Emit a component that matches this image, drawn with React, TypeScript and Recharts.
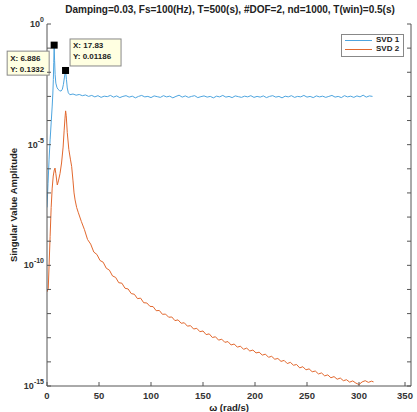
import React from "react";
import { LineChart, Line, XAxis, YAxis, ReferenceDot } from "recharts";

// [omega (rad/s), log10(amplitude)]
const svd1Rise: number[][] = [
  [0, -7.6], [1, -6.6], [2, -5.6], [3, -4.8], [4, -4.1], [5, -3.4], [5.6, -2.9], [6.1, -2.3],
  [6.5, -1.6], [6.886, -0.876], [7.3, -1.5], [7.8, -2.1], [8.5, -2.45], [9.5, -2.62], [10.5, -2.7],
  [12, -2.76], [13.5, -2.78], [14.8, -2.7], [15.8, -2.5], [16.8, -2.2], [17.83, -1.926], [18.7, -2.3],
  [19.5, -2.65], [20.5, -2.85],
];
const svd1Floor: number[][] = [
  [22, -2.93], [25, -2.9], [28, -2.95], [31, -2.92], [34, -2.97], [37, -2.94], [40, -3.0], [43, -2.96],
  [46, -3.02], [49, -2.97], [52, -3.04], [55, -2.99], [58, -3.01], [61, -2.96], [64, -3.03], [67, -2.98],
  [70, -3.05], [73, -3.0], [76, -2.97], [79, -3.03], [82, -2.99], [85, -3.06], [88, -3.0], [91, -2.96],
  [94, -3.02], [97, -3.0], [100, -3.05], [103, -2.98], [106, -3.01], [109, -3.04], [112, -2.97], [115, -3.02],
  [118, -2.99], [121, -3.06], [124, -3.0], [127, -2.95], [130, -3.03], [133, -2.98], [136, -3.04], [139, -3.0],
  [142, -2.97], [145, -3.05], [148, -3.01], [151, -2.98], [154, -3.03], [157, -3.0], [160, -3.06], [163, -2.99],
  [166, -3.02], [169, -2.96], [172, -3.03], [175, -3.0], [178, -3.05], [181, -2.98], [184, -3.01], [187, -3.04],
  [190, -2.99], [193, -3.02], [196, -2.97], [199, -3.04], [202, -3.0], [205, -3.03], [208, -2.98], [211, -3.05],
  [214, -3.0], [217, -2.97], [220, -3.03], [223, -3.0], [226, -3.06], [229, -2.99], [232, -3.02], [235, -2.97],
  [238, -3.04], [241, -3.0], [244, -3.02], [247, -2.96], [250, -3.03], [253, -3.0], [256, -3.05], [259, -2.98],
  [262, -3.02], [265, -2.99], [268, -3.04], [271, -3.0], [274, -2.96], [277, -3.03], [280, -3.0], [283, -3.05],
  [286, -2.97], [289, -3.02], [292, -2.99], [295, -3.04], [298, -2.98], [301, -3.02], [304, -2.95], [307, -3.03],
  [310, -2.98], [313, -3.0],
];
const svd2Rise: number[][] = [
  [0, -11.1], [1.2, -10.97], [2, -10.0], [3, -8.8], [4, -7.6], [5, -6.8], [6, -6.3], [7, -6.05], [7.7, -5.97],
  [8.5, -6.2], [9.9, -6.67], [11, -6.5], [12.5, -6.2], [14, -5.76], [15.5, -5.1], [16.5, -4.4], [17.3, -3.9],
  [17.9, -3.6], [18.5, -3.8], [19.5, -4.5], [21, -5.2], [22.5, -5.6], [23.7, -5.9], [25, -6.5], [26, -7.0],
  [27, -7.29], [28.5, -7.6],
];
const svd2Tail: number[][] = [
  [30, -7.8], [33, -8.18], [36, -8.52], [39, -8.93], [42, -9.12], [45, -9.45], [48, -9.55], [51, -9.8],
  [54, -9.87], [57, -10.12], [60, -10.2], [63, -10.44], [66, -10.5], [69, -10.72], [72, -10.74], [75, -10.95],
  [78, -10.98], [81, -11.17], [84, -11.2], [87, -11.38], [90, -11.36], [93, -11.55], [96, -11.56], [99, -11.7],
  [102, -11.71], [105, -11.88], [108, -11.87], [111, -12.03], [114, -12.02], [117, -12.15], [120, -12.14],
  [123, -12.29], [126, -12.26], [129, -12.4], [132, -12.38], [135, -12.52], [138, -12.5], [141, -12.64],
  [144, -12.61], [147, -12.75], [150, -12.72], [153, -12.87], [156, -12.84], [159, -12.99], [162, -12.96],
  [165, -13.1], [168, -13.06], [171, -13.19], [174, -13.16], [177, -13.3], [180, -13.26], [183, -13.39],
  [186, -13.35], [189, -13.48], [192, -13.43], [195, -13.55], [198, -13.51], [201, -13.63], [204, -13.6],
  [207, -13.72], [210, -13.68], [213, -13.81], [216, -13.77], [219, -13.89], [222, -13.86], [225, -13.98],
  [228, -13.94], [231, -14.07], [234, -14.02], [237, -14.14], [240, -14.11], [243, -14.25], [246, -14.2],
  [249, -14.33], [252, -14.29], [255, -14.41], [258, -14.38], [261, -14.5], [264, -14.46], [267, -14.58],
  [270, -14.54], [273, -14.66], [276, -14.61], [279, -14.72], [282, -14.67], [285, -14.78], [288, -14.74],
  [291, -14.84], [294, -14.79], [297, -14.88], [300, -14.94], [303, -14.83], [306, -14.78], [309, -14.85],
  [312, -14.8], [314, -14.83],
];

const xTicks = [0, 50, 100, 150, 200, 250, 300, 350];
const yExponents = [-15, -14, -13, -12, -11, -10, -9, -8, -7, -6, -5, -4, -3, -2, -1, 0];
const yTicks = yExponents.map((e) => Math.pow(10, e));

const tip1 = { x: 6.886, y: 0.1332, xs: "6.886", ys: "0.1332" };
const tip2 = { x: 17.83, y: 0.01186, xs: "17.83", ys: "0.01186" };

const toPoints = (pairs: number[][]) => pairs.map(([w, l]) => ({ w, amp: Math.pow(10, l) }));
const svd1 = toPoints([...svd1Rise, ...svd1Floor]);
const svd2 = toPoints([...svd2Rise, ...svd2Tail]);

const FONT = "'Liberation Sans', Arial, Helvetica, sans-serif";
const AX = "#555";
const BLUE = "#4ea5df";
const ORANGE = "#e2682e";

const XTickBottom = (p: any) => (
  <g>
    <line x1={p.x} y1={p.y} x2={p.x} y2={p.y - 4} stroke={AX} />
    <text x={p.x} y={p.y + 12.5} textAnchor="middle" fontSize={9.5} fontWeight="bold" fill="#333" fontFamily={FONT}>
      {p.payload.value}
    </text>
  </g>
);
const XTickTop = (p: any) => <line x1={p.x} y1={p.y} x2={p.x} y2={p.y + 4} stroke={AX} />;
const YTickLeft = (p: any) => {
  const e = Math.round(Math.log10(p.payload.value));
  return (
    <g>
      <line x1={p.x} y1={p.y} x2={p.x + 4} y2={p.y} stroke={AX} />
      {e % 5 === 0 && (
        <text x={p.x - 3} y={p.y + 3} textAnchor="end" fontSize={9} fontWeight="bold" fill="#333" fontFamily={FONT}>
          10
          <tspan dy={-5} fontSize={7}>{String(e)}</tspan>
        </text>
      )}
    </g>
  );
};
const YTickRight = (p: any) => <line x1={p.x} y1={p.y} x2={p.x - 4} y2={p.y} stroke={AX} />;

const makeTip = (xs: string, ys: string, dx: number, dy: number, w: number, h: number) => (p: any) => {
  const bx = p.cx + dx;
  const by = p.cy + dy;
  return (
    <g>
      <rect x={p.cx - 3.5} y={p.cy - 3.5} width={7} height={7} fill="#000" />
      <rect x={bx} y={by} width={w} height={h} fill="#ffffe1" stroke="#888" />
      <text x={bx + 3} y={by + 9.5} fontSize={8} fontWeight="bold" fill="#222" fontFamily={FONT}>X: {xs}</text>
      <text x={bx + 3} y={by + 20.5} fontSize={8} fontWeight="bold" fill="#222" fontFamily={FONT}>Y: {ys}</text>
    </g>
  );
};

export default function App() {
  return (
    <div style={{ position: "absolute", left: 0, top: 0, width: 417, height: 412, background: "#fff", fontFamily: FONT }}>
      <LineChart width={417} height={412} margin={{ top: 24, right: 0, bottom: 0, left: 0 }}>
        <XAxis xAxisId="b" dataKey="w" type="number" domain={[0, 350]} ticks={xTicks} orientation="bottom"
          height={26} tickSize={0} tickMargin={0} tickLine={false} stroke={AX} tick={<XTickBottom />} allowDataOverflow />
        <XAxis xAxisId="t" dataKey="w" type="number" domain={[0, 350]} ticks={xTicks} orientation="top"
          height={0} tickSize={0} tickMargin={0} tickLine={false} stroke={AX} tick={<XTickTop />} allowDataOverflow />
        <YAxis yAxisId="l" scale="log" type="number" domain={[1e-15, 1]} ticks={yTicks} orientation="left"
          width={47} tickSize={0} tickMargin={0} tickLine={false} stroke={AX} tick={<YTickLeft />} allowDataOverflow interval={0} />
        <YAxis yAxisId="r" scale="log" type="number" domain={[1e-15, 1]} ticks={yTicks} orientation="right"
          width={6} tickSize={0} tickMargin={0} tickLine={false} stroke={AX} tick={<YTickRight />} allowDataOverflow interval={0} />
        <Line xAxisId="b" yAxisId="l" data={svd1} dataKey="amp" stroke={BLUE} strokeWidth={1} dot={false} isAnimationActive={false} type="linear" />
        <Line xAxisId="b" yAxisId="l" data={svd2} dataKey="amp" stroke={ORANGE} strokeWidth={1} dot={false} isAnimationActive={false} type="linear" />
        <ReferenceDot xAxisId="b" yAxisId="l" x={tip1.x} y={tip1.y} ifOverflow="visible" shape={makeTip(tip1.xs, tip1.ys, -47, 6, 42, 24)} />
        <ReferenceDot xAxisId="b" yAxisId="l" x={tip2.x} y={tip2.y} ifOverflow="visible" shape={makeTip(tip2.xs, tip2.ys, 4.5, -31.5, 51, 27)} />
      </LineChart>
      <div style={{ position: "absolute", left: 0, width: 460, top: 4, textAlign: "center", fontSize: 10, fontWeight: "bold", color: "#222", whiteSpace: "nowrap" }}>
        Damping=0.03, Fs=100(Hz), T=500(s), #DOF=2, nd=1000, T(win)=0.5(s)
      </div>
      <div style={{ position: "absolute", left: 13, top: 205, transform: "translate(-50%, -50%) rotate(-90deg)", fontSize: 9.5, fontWeight: "bold", color: "#222", whiteSpace: "nowrap" }}>
        Singular Value Amplitude
      </div>
      <div style={{ position: "absolute", left: 229, top: 402, transform: "translateX(-50%)", fontSize: 9.5, fontWeight: "bold", color: "#222", whiteSpace: "nowrap" }}>
        ω (rad/s)
      </div>
      <div style={{ position: "absolute", left: 341, top: 34, width: 61, height: 21, background: "#fff", border: "1px solid #888", fontSize: 8, fontWeight: "bold", color: "#222" }}>
        <div style={{ position: "absolute", left: 3, top: 5, width: 27, height: 1.2, background: BLUE }} />
        <div style={{ position: "absolute", left: 34, top: 0, lineHeight: "10px" }}>SVD 1</div>
        <div style={{ position: "absolute", left: 3, top: 14, width: 27, height: 1.2, background: ORANGE }} />
        <div style={{ position: "absolute", left: 34, top: 9, lineHeight: "10px" }}>SVD 2</div>
      </div>
    </div>
  );
}
